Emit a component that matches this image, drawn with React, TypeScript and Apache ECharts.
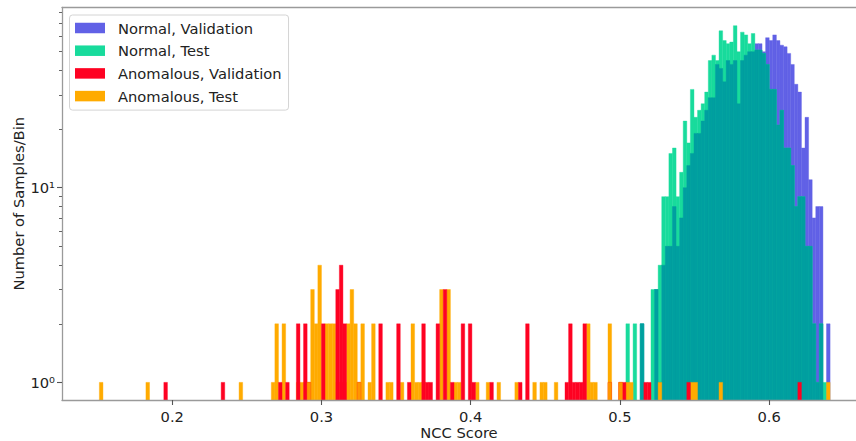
import React, { useEffect, useRef } from "react";
import * as echarts from "echarts";

// Shared histogram bin grid (NCC score)
const BIN_START = 0.1512;
const BIN_WIDTH = 0.0024;

// Normal samples: contiguous bins beginning at bin NORMAL_FIRST_BIN
const NORMAL_FIRST_BIN = 147;
const normalValidation = [
  0, 0, 0, 0, 2, 0, 0, 0, 3, 1, 4, 5, 5, 8, 5, 7, 10, 13, 15, 19, 19, 22, 25, 29, 29,
  43, 41, 35, 45, 43, 45, 27, 45, 48, 50, 50, 55, 55, 50, 59, 57, 61, 57, 54, 53, 49,
  43, 34, 31, 16, 23, 11, 7, 8, 8, 0, 2,
];
const normalTest = [
  2, 0, 2, 0, 2, 0, 0, 3, 3, 4, 9, 9, 15, 16, 9, 12, 22, 17, 32, 23, 25, 27, 31, 45, 48,
  45, 64, 57, 55, 56, 68, 50, 63, 61, 55, 62, 51, 51, 49, 43, 32, 32, 21, 25, 16, 16,
  13, 8, 9, 9, 5, 5, 2, 1, 2, 1, 0,
];

// Anomalous samples: [bin centre NCC score, count]
const anomalousValidation: [number, number][] = [
  [0.1956, 1], [0.234, 1], [0.2724, 1], [0.2772, 1], [0.2844, 2], [0.2892, 2],
  [0.2916, 1], [0.3012, 2], [0.3108, 3], [0.3132, 4], [0.3156, 2], [0.3252, 1],
  [0.3396, 2], [0.3516, 2], [0.3588, 1], [0.3684, 2], [0.3708, 1], [0.3732, 1],
  [0.378, 2], [0.3828, 3], [0.3876, 1], [0.3948, 2], [0.3996, 2], [0.402, 1],
  [0.414, 1], [0.4332, 1], [0.438, 2], [0.4644, 1], [0.4668, 2], [0.4692, 1],
  [0.4716, 1], [0.474, 1], [0.4764, 2], [0.4932, 1], [0.5004, 1], [0.5028, 1],
  [0.5172, 1], [0.5196, 1], [0.546, 1], [0.6204, 1],
];
const anomalousTest: [number, number][] = [
  [0.1524, 1], [0.1836, 1], [0.246, 1], [0.2676, 1], [0.27, 2], [0.2748, 2],
  [0.2844, 1], [0.2868, 1], [0.2892, 1], [0.2916, 1], [0.294, 3], [0.2964, 2],
  [0.2988, 4], [0.3036, 2], [0.306, 2], [0.3084, 2], [0.3108, 1], [0.3132, 1],
  [0.3156, 1], [0.318, 2], [0.3204, 3], [0.3228, 2], [0.3252, 1], [0.3276, 2],
  [0.3324, 1], [0.3348, 2], [0.3444, 1], [0.3468, 1], [0.354, 1], [0.3612, 2],
  [0.3636, 1], [0.366, 1], [0.3684, 1], [0.3804, 3], [0.3852, 3], [0.39, 1],
  [0.3924, 1], [0.4044, 1], [0.4116, 1], [0.4188, 1], [0.4308, 1], [0.4428, 1],
  [0.4476, 1], [0.45, 1], [0.4572, 1], [0.4788, 2], [0.4812, 1], [0.4836, 1],
  [0.4932, 2], [0.5004, 1], [0.5052, 1], [0.5076, 1], [0.5268, 1], [0.5484, 1],
  [0.5508, 1], [0.5676, 1], [0.6396, 1],
];

const X_TICKS = [0.2, 0.3, 0.4, 0.5, 0.6];
const Y_MAJOR = [0, 1];
const Y_MINOR = [2, 3, 4, 5, 6, 7, 8, 9, 20, 30, 40, 50, 60, 70, 80].map((v) => Math.log10(v));

const X_MIN = 0.12616;
const X_MAX = 0.65816;
const Y_MIN = -0.0905; // log10 of the lower limit
const Y_MAX = 1.926;

const COLORS = {
  normalValidation: "#6161e6",
  normalTest: "#18db9c",
  normalOverlap: "#009fa0",
  anomalousValidation: "#fe0222",
  anomalousTest: "#ffab00",
  anomalousOverlap: "#ff9500",
};

const FONT = "DejaVu Sans";
const TEXT = "#222222";

type Bin = [number, number, number];

const binAt = (k: number, count: number): Bin => [
  BIN_START + k * BIN_WIDTH,
  BIN_START + (k + 1) * BIN_WIDTH,
  Math.log10(count),
];

const toBinMap = (list: [number, number][]) => {
  const m = new Map<number, number>();
  list.forEach(([v, c]) => {
    const k = Math.floor((v - BIN_START) / BIN_WIDTH + 1e-6);
    m.set(k, (m.get(k) || 0) + c);
  });
  return m;
};

function buildData() {
  const nv: Bin[] = [];
  const nt: Bin[] = [];
  const nOverlap: Bin[] = [];
  normalValidation.forEach((c, i) => {
    const k = NORMAL_FIRST_BIN + i;
    const t = normalTest[i];
    if (c > 0) nv.push(binAt(k, c));
    if (t > 0) nt.push(binAt(k, t));
    const m = Math.min(c, t);
    if (m > 0) nOverlap.push(binAt(k, m));
  });

  const avMap = toBinMap(anomalousValidation);
  const atMap = toBinMap(anomalousTest);
  const av: Bin[] = [];
  const at: Bin[] = [];
  const aOverlap: Bin[] = [];
  avMap.forEach((c, k) => av.push(binAt(k, c)));
  atMap.forEach((c, k) => {
    at.push(binAt(k, c));
    const r = avMap.get(k) || 0;
    if (r > 0 && c >= r) aOverlap.push(binAt(k, r));
  });
  return { nv, nt, nOverlap, av, at, aOverlap };
}

const renderBar = (color: string) => (_params: any, api: any) => {
  const x0 = api.value(0);
  const x1 = api.value(1);
  const y = api.value(2);
  const p0 = api.coord([x0, y]);
  const p1 = api.coord([x1, Y_MIN]);
  return {
    type: "rect",
    shape: { x: p0[0], y: p0[1], width: p1[0] - p0[0], height: p1[1] - p0[1] },
    style: { fill: color, stroke: color, lineWidth: 0.4 },
  };
};

const histSeries = (name: string, color: string, data: Bin[]) => ({
  type: "custom",
  name,
  data,
  clip: true,
  xAxisIndex: 0,
  yAxisIndex: 0,
  encode: { x: [0, 1], y: 2 },
  itemStyle: { color },
  renderItem: renderBar(color),
  silent: true,
});

export default function App() {
  const ref = useRef<HTMLDivElement>(null);

  useEffect(() => {
    if (!ref.current) return;
    const chart = echarts.init(ref.current, undefined, { renderer: "svg", width: 856, height: 441 });
    const d = buildData();
    const axisColor = "#9a9a9a";
    const tickColor = "#555555";

    chart.setOption({
      animation: false,
      backgroundColor: "#ffffff",
      textStyle: { fontFamily: FONT },
      grid: {
        left: 62,
        top: 7.5,
        right: 0,
        height: 392.5,
        show: false,
        containLabel: false,
        outerBoundsMode: "none",
      },
      legend: {
        data: ["Normal, Validation", "Normal, Test", "Anomalous, Validation", "Anomalous, Test"],
        orient: "vertical",
        left: 69.5,
        top: 15,
        icon: "rect",
        itemWidth: 30,
        itemHeight: 10.5,
        itemGap: 7.7,
        padding: [5.5, 7, 6.5, 5.5],
        borderColor: "#d4d4d4",
        borderWidth: 1,
        borderRadius: 3,
        backgroundColor: "rgba(255,255,255,0.8)",
        selectedMode: false,
        textStyle: { fontFamily: FONT, fontSize: 14.7, color: TEXT, padding: [0, 0, 0, 8] },
      },
      xAxis: [
        {
          type: "value",
          min: X_MIN,
          max: X_MAX,
          z: 10,
          splitLine: { show: false },
          axisLine: { show: true, onZero: false, lineStyle: { color: axisColor, width: 1.3 } },
          axisTick: { show: true, customValues: X_TICKS, length: 5, lineStyle: { color: tickColor, width: 1.1 } },
          axisLabel: {
            customValues: X_TICKS,
            formatter: (v: number) => v.toFixed(1),
            margin: 9,
            lineHeight: 14,
            fontFamily: FONT,
            fontSize: 14.7,
            color: TEXT,
          },
          name: "NCC Score",
          nameLocation: "middle",
          nameGap: 24,
          nameMoveOverlap: false,
          nameTextStyle: { fontFamily: FONT, fontSize: 14.7, lineHeight: 16, color: TEXT },
        },
        {
          // top spine
          type: "value",
          position: "top",
          min: X_MIN,
          max: X_MAX,
          z: 10,
          splitLine: { show: false },
          axisLine: { show: true, onZero: false, lineStyle: { color: axisColor, width: 1.3 } },
          axisTick: { show: false },
          axisLabel: { show: false },
        },
      ],
      yAxis: [
        {
          type: "value",
          min: Y_MIN,
          max: Y_MAX,
          z: 10,
          splitLine: { show: false },
          axisLine: { show: true, onZero: false, lineStyle: { color: axisColor, width: 1.3 } },
          axisTick: { show: true, customValues: Y_MAJOR, length: 5, lineStyle: { color: tickColor, width: 1.1 } },
          axisLabel: {
            customValues: Y_MAJOR,
            formatter: (v: number) => (Math.round(v) === 0 ? "10\u2070" : "10\u00b9"),
            margin: 7,
            padding: [5, 0, 0, 0],
            fontFamily: FONT,
            fontSize: 14.7,
            color: TEXT,
          },
          name: "Number of Samples/Bin",
          nameLocation: "middle",
          nameGap: 36,
          nameMoveOverlap: false,
          nameTextStyle: { fontFamily: FONT, fontSize: 14.7, color: TEXT },
        },
        {
          type: "value",
          position: "left",
          min: Y_MIN,
          max: Y_MAX,
          z: 10,
          splitLine: { show: false },
          axisLine: { show: false },
          axisLabel: { show: false },
          axisTick: { show: true, customValues: Y_MINOR, length: 3, lineStyle: { color: tickColor, width: 0.9 } },
        },
      ],
      series: [
        histSeries("Normal, Validation", COLORS.normalValidation, d.nv),
        histSeries("Normal, Test", COLORS.normalTest, d.nt),
        histSeries("normal overlap", COLORS.normalOverlap, d.nOverlap),
        histSeries("Anomalous, Test", COLORS.anomalousTest, d.at),
        histSeries("Anomalous, Validation", COLORS.anomalousValidation, d.av),
        histSeries("anomalous overlap", COLORS.anomalousOverlap, d.aOverlap),
      ],
    });

    return () => chart.dispose();
  }, []);

  return (
    <div
      ref={ref}
      style={{ position: "absolute", left: 0, top: 0, width: 856, height: 441, background: "#fff" }}
    />
  );
}
